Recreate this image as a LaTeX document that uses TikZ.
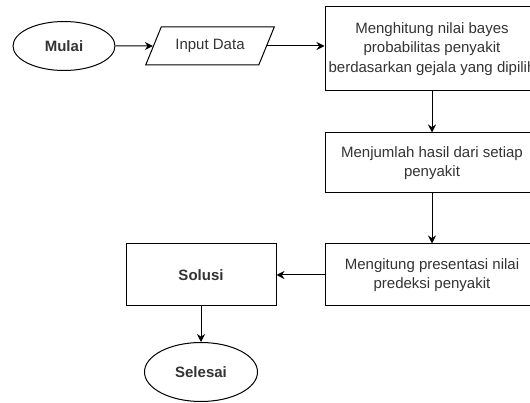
\documentclass[tikz,border=0pt]{standalone}
\usepackage{fontspec}
\setmainfont{Liberation Sans}
\usetikzlibrary{shapes.geometric,arrows.meta,positioning}
\newcommand{\flowfont}{\fontsize{15}{19.5}\selectfont}
\tikzstyle{startstop} = [ellipse, draw=black, line width=1pt, inner sep=0pt, text=black!80, font=\flowfont\bfseries]
\tikzstyle{io} = [trapezium, trapezium left angle=59, trapezium right angle=121, trapezium stretches=true, minimum width=130pt, minimum height=38pt, draw=black, line width=1pt, text=black!80, font=\flowfont]
\tikzstyle{process} = [rectangle, draw=black, line width=1pt, inner sep=0pt, align=center, text=black!80, font=\flowfont]
\tikzstyle{arrow} = [line width=1pt,-{Stealth[length=8pt,width=8pt]}]
\begin{document}
\begin{tikzpicture}[x=1pt,y=-1pt]
\useasboundingbox (0,0) rectangle (530,403);
\node (mulai) [startstop, minimum width=102pt, minimum height=49pt] at (64,46) {Mulai};
\node (input) [io] at (210,46) {Input Data};
\node (hitung) [process, minimum width=214pt, minimum height=84pt] at (432,49) {Menghitung nilai bayes\\probabilitas penyakit\\berdasarkan gejala yang dipilih};
\node (jumlah) [process, minimum width=214pt, minimum height=60pt] at (432,163) {Menjumlah hasil dari setiap\\penyakit};
\node (persen) [process, minimum width=214pt, minimum height=62pt] at (432,275) {Mengitung presentasi nilai\\predeksi penyakit};
\node (solusi) [process, minimum width=150pt, minimum height=62pt, font=\flowfont\bfseries] at (201,275) {Solusi};
\node (selesai) [startstop, minimum width=113pt, minimum height=59pt] at (201,372) {Selesai};
\draw [arrow] (mulai) -- (input);
\draw [arrow] (input.east) -- (input.east -| hitung.west);
\draw [arrow] (hitung) -- (jumlah);
\draw [arrow] (jumlah) -- (persen);
\draw [arrow] (persen) -- (solusi);
\draw [arrow] (solusi) -- (selesai);
\end{tikzpicture}
\end{document}
